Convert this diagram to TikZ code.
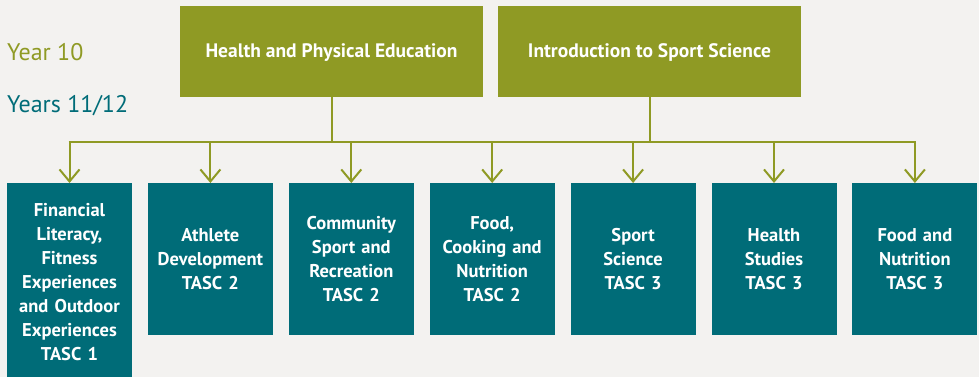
\documentclass[tikz,border=0pt]{standalone}
\usepackage{fontspec}
\setmainfont{PT Sans}
\usetikzlibrary{arrows.meta,positioning}

\definecolor{pathgreen}{HTML}{8F9A24}
\definecolor{pathteal}{HTML}{006C78}
\definecolor{pagegrey}{HTML}{F3F2F0}

\tikzset{
  yearlabel/.style={anchor=base west,inner sep=0pt,font=\fontsize{24}{28}\selectfont},
  topbox/.style={fill=pathgreen,text=white,minimum width=303pt,minimum height=91pt,
                 inner sep=0pt,text height=13pt,text depth=0pt,
                 font=\bfseries\fontsize{19.5}{24}\selectfont},
  subjbox/.style={fill=pathteal,text=white,minimum width=125pt,minimum height=152pt,
                  text width=120pt,align=center,inner sep=0pt,
                  font=\bfseries\fontsize{18.5}{24}\selectfont},
  link/.style={draw=pathgreen,line width=2pt},
  linkarrow/.style={link,-{Straight Barb[length=12pt,width=20pt,line width=2pt]}}
}

\begin{document}
\begin{tikzpicture}[x=1pt,y=-1pt]

% Background and page size
\useasboundingbox[fill=pagegrey] (0,0) rectangle (979,377);

% Define parameters
\def\gap{15.5pt}      %space between subject boxes.
\coordinate (bus) at (0,142);

% Year labels
\node[yearlabel,text=pathgreen] (year10) at (7,61) {Year 10};
\node[yearlabel,text=pathteal] (year1112) at (7,113) {Years 11/12};

% Year 10 courses
\node[topbox] (hpe) at (331.5,51.5) {Health and Physical Education};
\node[topbox] (iss) at (649.5,51.5) {Introduction to Sport Science};

% Years 11/12 courses
\node[subjbox,anchor=north,minimum height=198pt] (fin) at (69.5,183)
  {Financial\\Literacy,\\Fitness\\Experiences\\and Outdoor\\Experiences\\TASC 1};
\node[subjbox,right=\gap of fin.north east,anchor=north west] (ath)
  {Athlete\\Development\\TASC 2};
\node[subjbox,right=\gap of ath.north east,anchor=north west] (com)
  {Community\\Sport and\\Recreation\\TASC 2};
\node[subjbox,right=\gap of com.north east,anchor=north west] (fcn)
  {Food,\\Cooking and\\Nutrition\\TASC 2};
\node[subjbox,right=\gap of fcn.north east,anchor=north west] (spo)
  {Sport\\Science\\TASC 3};
\node[subjbox,right=\gap of spo.north east,anchor=north west] (hea)
  {Health\\Studies\\TASC 3};
\node[subjbox,right=\gap of hea.north east,anchor=north west] (fan)
  {Food and\\Nutrition\\TASC 3};

% Connectors
\draw[link] (hpe.south) -- (hpe.south |- bus);
\draw[link] (iss.south) -- (iss.south |- bus);
\draw[link] ([xshift=-1pt]fin.north |- bus) -- ([xshift=1pt]fan.north |- bus);

\draw[linkarrow] (fin.north |- bus) -- (fin.north);
\draw[linkarrow] (ath.north |- bus) -- (ath.north);
\draw[linkarrow] (com.north |- bus) -- (com.north);
\draw[linkarrow] (fcn.north |- bus) -- (fcn.north);
\draw[linkarrow] (spo.north |- bus) -- (spo.north);
\draw[linkarrow] (hea.north |- bus) -- (hea.north);
\draw[linkarrow] (fan.north |- bus) -- (fan.north);

\end{tikzpicture}
\end{document}
